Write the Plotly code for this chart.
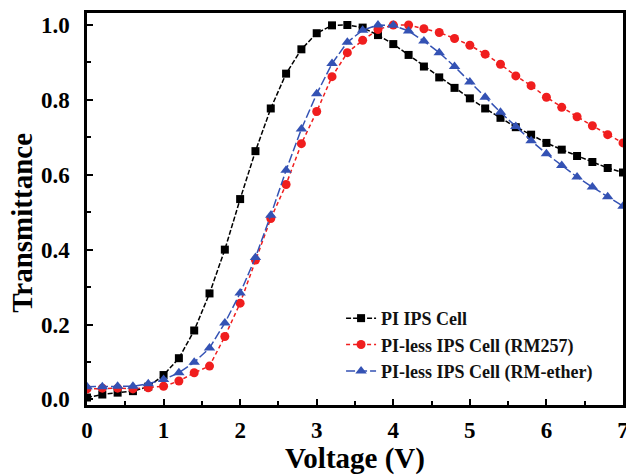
import plotly.graph_objects as go

voltage = [0.0, 0.2, 0.4, 0.6, 0.8, 1.0, 1.2, 1.4, 1.6, 1.8, 2.0, 2.2, 2.4, 2.6, 2.8, 3.0,
           3.2, 3.4, 3.6, 3.8, 4.0, 4.2, 4.4, 4.6, 4.8, 5.0, 5.2, 5.4, 5.6, 5.8, 6.0,
           6.2, 6.4, 6.6, 6.8, 7.0]

pi_ips = [0.005, 0.013, 0.018, 0.022, 0.034, 0.065, 0.110, 0.184, 0.283, 0.400, 0.535,
          0.663, 0.777, 0.870, 0.935, 0.978, 0.999, 1.000, 0.993, 0.973, 0.949, 0.920,
          0.889, 0.860, 0.832, 0.804, 0.777, 0.752, 0.727, 0.707, 0.685, 0.667, 0.650,
          0.634, 0.618, 0.606]

rm257 = [0.028, 0.030, 0.030, 0.028, 0.031, 0.035, 0.049, 0.071, 0.089, 0.168, 0.257,
         0.372, 0.483, 0.574, 0.683, 0.769, 0.862, 0.926, 0.959, 0.988, 1.000, 1.000,
         0.990, 0.980, 0.964, 0.946, 0.922, 0.895, 0.864, 0.838, 0.807, 0.780, 0.755,
         0.731, 0.707, 0.685]

rm_ether = [0.034, 0.034, 0.035, 0.035, 0.042, 0.053, 0.071, 0.099, 0.137, 0.204, 0.284,
            0.379, 0.492, 0.612, 0.722, 0.816, 0.897, 0.954, 0.986, 1.000, 0.999, 0.984,
            0.957, 0.926, 0.889, 0.848, 0.807, 0.767, 0.729, 0.691, 0.656, 0.625, 0.594,
            0.567, 0.541, 0.516]

names = ["PI IPS Cell", "PI-less IPS Cell (RM257)", "PI-less IPS Cell (RM-ether)"]

x_ticks = [0, 1, 2, 3, 4, 5, 6, 7]
y_ticks = [0.0, 0.2, 0.4, 0.6, 0.8, 1.0]
y_tick_text = ["0.0", "0.2", "0.4", "0.6", "0.8", "1.0"]

FONT = "Times New Roman, Liberation Serif, serif"
BLACK = "#000000"
RED = "#F01E1E"
BLUE = "#3452B4"

fig = go.Figure()
fig.add_trace(go.Scatter(x=voltage, y=pi_ips, name=names[0], mode="lines+markers",
                         line=dict(color=BLACK, width=1.5, dash="5px,2px"),
                         marker=dict(symbol="square", size=8, color=BLACK)))
fig.add_trace(go.Scatter(x=voltage, y=rm257, name=names[1], mode="lines+markers",
                         line=dict(color=RED, width=1.5, dash="4px,3px"),
                         marker=dict(symbol="circle", size=9, color=RED)))
fig.add_trace(go.Scatter(x=voltage, y=rm_ether, name=names[2], mode="lines+markers",
                         line=dict(color=BLUE, width=1.5, dash="9px,3px"),
                         marker=dict(symbol="triangle-up", size=10, color=BLUE)))

fig.update_layout(
    width=626, height=475,
    margin=dict(l=87, r=3, t=13, b=70, autoexpand=False),
    paper_bgcolor="white", plot_bgcolor="white",
    font=dict(family=FONT, color="black", weight="bold"),
    showlegend=True,
    legend=dict(x=0.474, y=0.268, xanchor="left", yanchor="top",
                bgcolor="rgba(0,0,0,0)",
                font=dict(family=FONT, size=18, color="#111111", weight="bold"),
                tracegroupgap=0, itemwidth=30),
    annotations=[dict(text="Transmittance", textangle=-90, xref="paper", yref="paper",
                      x=-0.121, y=0.465, xanchor="center", yanchor="middle", showarrow=False,
                      font=dict(family=FONT, size=29, weight="bold", color="black"))],
)

fig.update_xaxes(
    range=[0, 7], tickvals=x_ticks, ticktext=[str(v) for v in x_ticks],
    ticks="inside", ticklen=6, tickwidth=2, tickcolor="black",
    minor=dict(dtick=0.5, ticks="inside", ticklen=4, tickwidth=2, tickcolor="black"),
    showline=True, linewidth=2.5, linecolor="black", mirror=True,
    showgrid=False, zeroline=False, automargin=False,
    ticklabelstandoff=3, ticklabeloverflow="allow",
    tickfont=dict(family=FONT, size=23, weight="bold"),
    title=dict(text="Voltage (V)", font=dict(family=FONT, size=29, weight="bold"), standoff=0),
)
fig.update_yaxes(
    range=[-0.015, 1.032], tickvals=y_ticks, ticktext=y_tick_text,
    ticks="inside", ticklen=6, tickwidth=2, tickcolor="black",
    minor=dict(dtick=0.1, ticks="inside", ticklen=4, tickwidth=2, tickcolor="black"),
    showline=True, linewidth=2.5, linecolor="black", mirror=True,
    showgrid=False, zeroline=False, automargin=False,
    ticklabelstandoff=10, ticklabeloverflow="allow",
    tickfont=dict(family=FONT, size=23, weight="bold"),
)

fig.write_html("out.html", config={"displayModeBar": False},
               post_script="document.body.style.margin='0px';")
